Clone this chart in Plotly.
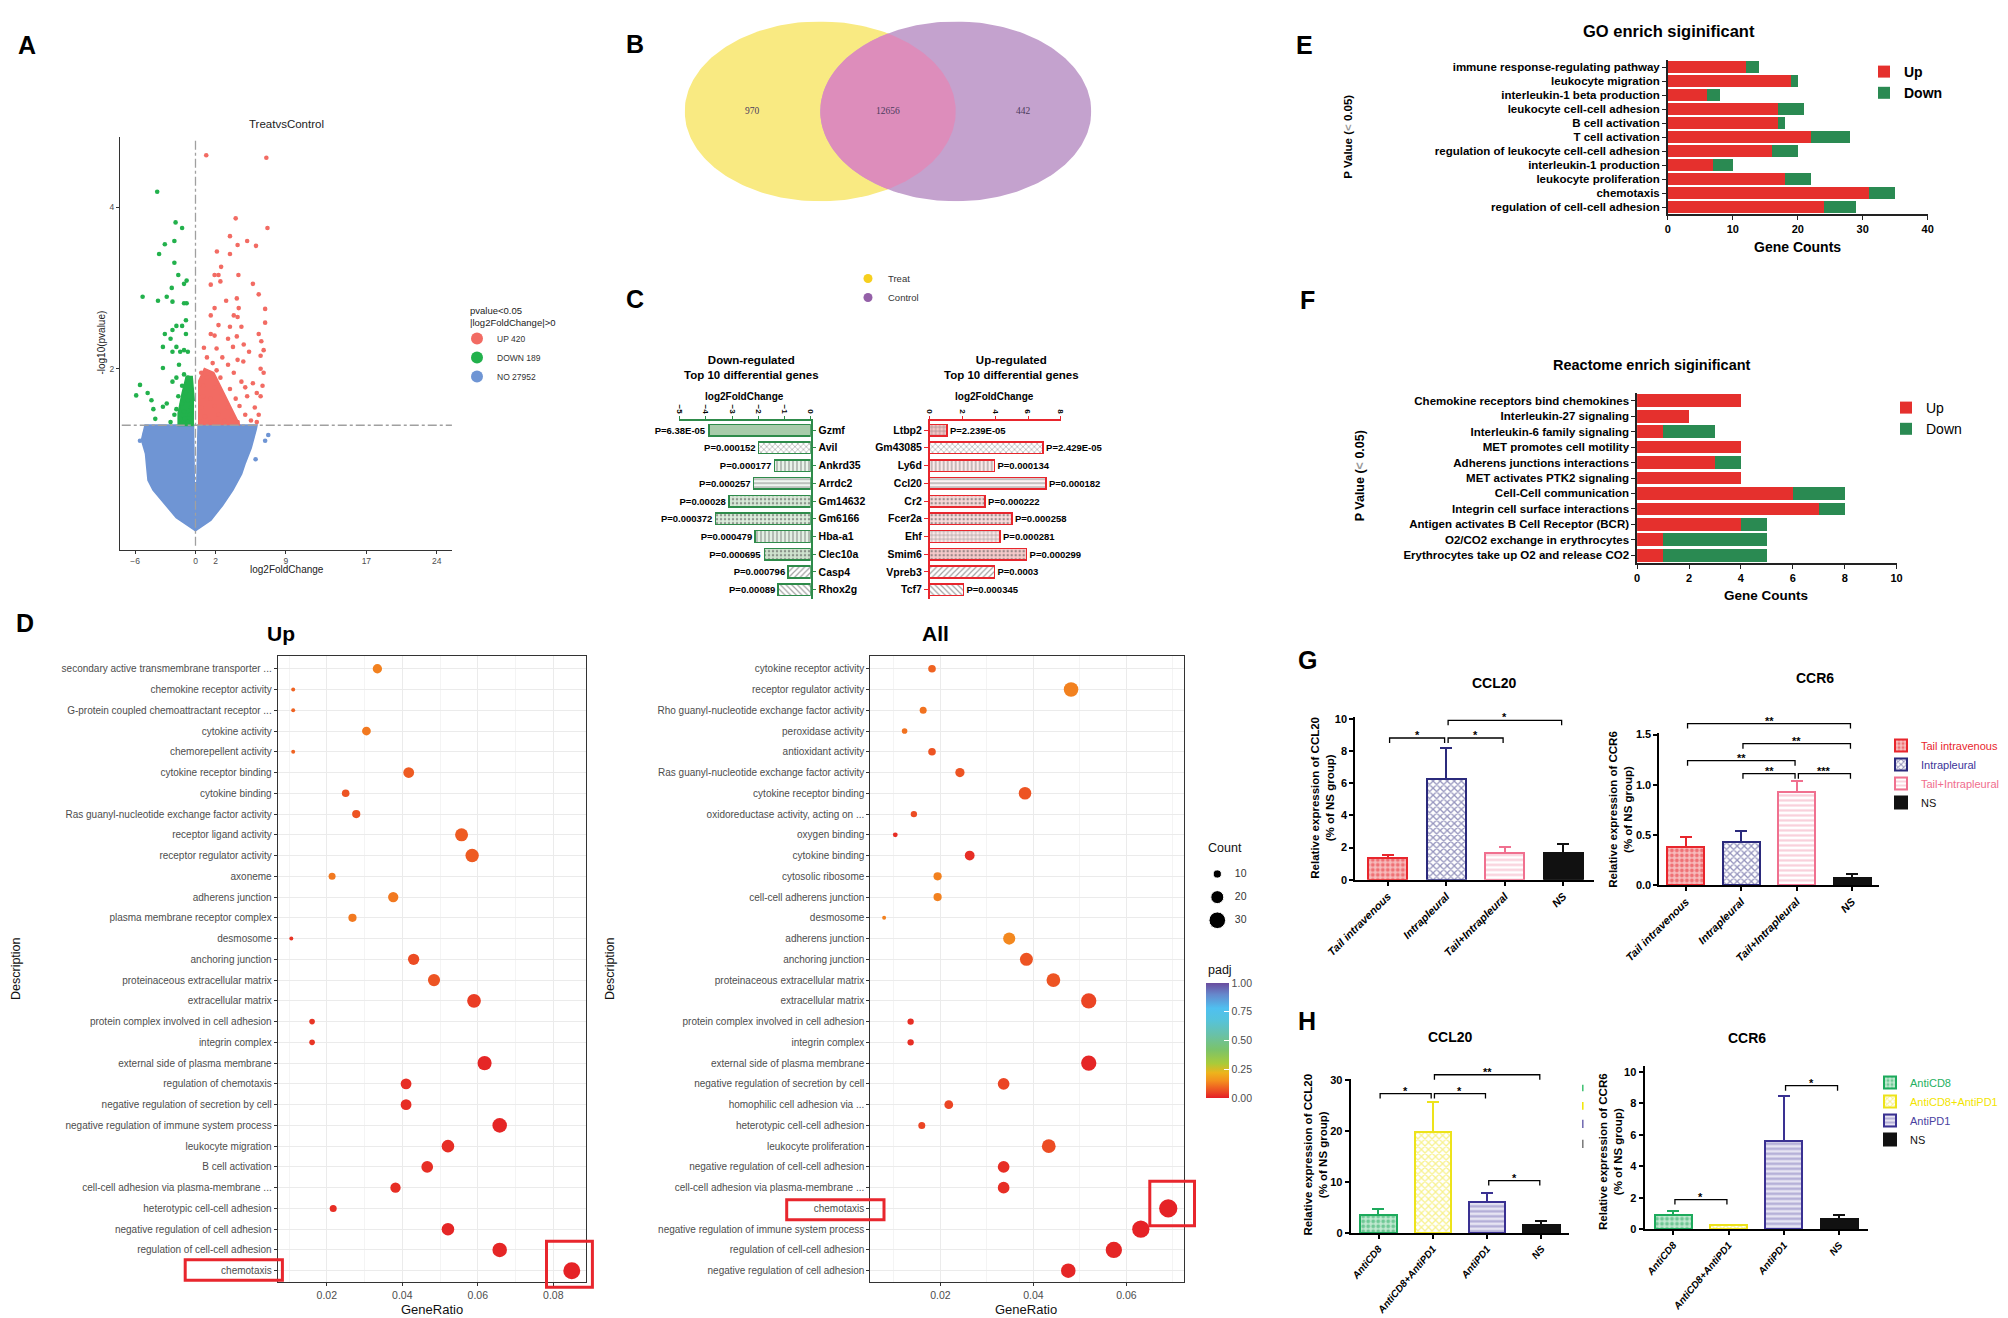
import numpy as np
import plotly.graph_objects as go

W, H = 2008, 1318
SANS = "Liberation Sans, Arial, Helvetica, sans-serif"
SERIF = "Liberation Serif, Times New Roman, serif"


def xdom(l, r):
    return [l / W, r / W]


def ydom(t, b):
    return [1 - b / H, 1 - t / H]


def PX(x):
    return x / W


def PY(y):
    return 1 - y / H


def ymap(v, dom, rng):
    return dom[0] + (v - rng[0]) / (rng[1] - rng[0]) * (dom[1] - dom[0])


# ======================= DATA =======================
# ---- A: volcano plot (log2FoldChange, -log10(pvalue)) ----
volc_up_pts = [
    (1.07, 4.64), (7.05, 4.61), (4.00, 3.86), (7.16, 3.74), (3.43, 3.64), (5.14, 3.58), (4.19, 3.53), (6.02, 3.52),
    (2.13, 3.45), (3.43, 3.42), (2.55, 3.26), (1.90, 3.16), (2.29, 3.16), (4.27, 3.16), (1.52, 3.04), (2.48, 3.08),
    (5.71, 3.05), (6.29, 2.92), (4.11, 2.87), (3.05, 2.84), (4.30, 2.75), (1.90, 2.75), (6.93, 2.74), (3.81, 2.66),
    (1.52, 2.66), (4.19, 2.64), (2.29, 2.54), (6.93, 2.57), (4.57, 2.52), (3.43, 2.52), (1.52, 2.43), (6.29, 2.43),
    (1.90, 2.41), (3.24, 2.37), (4.11, 2.40), (6.55, 2.34), (4.80, 2.30), (0.84, 2.26), (2.10, 2.25), (3.73, 2.27),
    (6.78, 2.23), (5.33, 2.21), (6.48, 2.16), (1.14, 2.14), (2.67, 2.14), (4.19, 2.11), (4.76, 2.09), (1.71, 2.07),
    (3.24, 2.05), (0.57, 1.95), (2.10, 1.98), (3.81, 1.95), (6.48, 2.00), (6.78, 1.95), (1.14, 1.89), (2.48, 1.89),
    (4.57, 1.84), (5.71, 1.82), (6.67, 1.79), (0.76, 1.79), (1.90, 1.77), (3.43, 1.75), (4.95, 1.77), (6.10, 1.70),
    (6.48, 1.66), (0.76, 1.66), (1.52, 1.63), (2.67, 1.68), (4.00, 1.63), (5.14, 1.66), (0.57, 1.52), (1.90, 1.54),
    (3.24, 1.52), (4.38, 1.54), (5.90, 1.52), (6.29, 1.43), (0.95, 1.41), (2.29, 1.43), (3.62, 1.41), (4.95, 1.43),
    (5.52, 1.36), (0.57, 1.34), (1.52, 1.34), (2.86, 1.36), (4.19, 1.34), (6.10, 1.34)]
volc_down_pts = [
    (-3.81, 4.19), (-1.98, 3.81), (-1.33, 3.74), (-3.05, 3.54), (-2.10, 3.58), (-3.62, 3.42), (-2.10, 3.31), (-1.71, 3.16),
    (-0.88, 3.09), (-1.14, 3.05), (-2.36, 3.00), (-5.26, 2.89), (-2.86, 2.89), (-3.73, 2.84), (-2.29, 2.83), (-1.14, 2.81),
    (-0.88, 2.81), (-0.95, 2.60), (-1.90, 2.53), (-1.33, 2.53), (-3.05, 2.43), (-2.29, 2.48), (-0.95, 2.43), (-2.48, 2.37),
    (-3.24, 2.27), (-1.90, 2.27), (-1.52, 2.21), (-2.29, 2.21), (-0.76, 2.21), (-1.14, 2.23), (-3.24, 2.01), (-1.64, 2.05),
    (-1.14, 1.93), (-1.90, 1.89), (-0.76, 1.89), (-5.52, 1.80), (-5.90, 1.67), (-4.76, 1.70), (-4.38, 1.61), (-4.19, 1.50),
    (-2.86, 1.57), (-3.24, 1.53), (-2.29, 1.84), (-1.33, 1.79), (-0.95, 1.70), (-0.76, 1.61), (-1.90, 1.50), (-1.14, 1.47),
    (-0.57, 1.43), (-4.00, 1.38), (-2.48, 1.34), (-1.52, 1.38), (-0.76, 1.34), (-0.46, 1.52), (-0.46, 1.75), (-1.71, 1.66),
    (-1.33, 1.57), (-2.10, 1.43), (-1.05, 1.38)]
volc_no_pts = [(-5.52, 1.11), (-5.03, 1.20), (-4.76, 1.26), (6.93, 1.11), (7.24, 1.18), (5.98, 0.88)]
# dense clouds (outlines)
volc_no_left = [(-0.12, 1.30), (-5.0, 1.30), (-5.35, 1.12), (-4.95, 0.95), (-4.8, 0.75), (-4.7, 0.62), (-4.2, 0.50),
                (-3.4, 0.38), (-1.9, 0.16), (0.0, 0.0), (-0.04, 0.6)]
volc_no_right = [(0.18, 1.30), (6.1, 1.30), (6.02, 1.25), (5.52, 1.02), (4.95, 0.84), (4.57, 0.70), (3.7, 0.50),
                 (2.67, 0.31), (1.52, 0.13), (0.0, 0.0), (0.06, 0.6)]
volc_up_core = [(0.35, 1.30), (0.35, 1.85), (0.9, 2.0), (1.8, 1.95), (2.6, 1.75), (3.4, 1.55), (4.4, 1.30)]
volc_down_core = [(-0.15, 1.30), (-1.7, 1.30), (-1.7, 1.45), (-1.3, 1.7), (-0.9, 1.9), (-0.35, 1.9), (-0.15, 1.6)]
volc_names = ["UP 420", "DOWN 189", "NO 27952"]
pvalue_cut = 0.05
volc_xticks = [-6, 0, 2, 9, 17, 24]
volc_yticks = [2, 4]

# ---- B: Venn ----
venn_sets = ["Treat", "Control"]
venn_counts = [970, 12656, 442]   # Treat only, both, Control only

# ---- C: top 10 genes ----
down_genes = ["Gzmf", "Avil", "Ankrd35", "Arrdc2", "Gm14632", "Gm6166", "Hba-a1", "Clec10a", "Casp4", "Rhox2g"]
down_lfc = [-3.89, -1.99, -1.39, -2.18, -3.13, -3.64, -2.12, -1.77, -0.86, -1.24]
down_p = ["P=6.38E-05", "P=0.000152", "P=0.000177", "P=0.000257", "P=0.00028", "P=0.000372",
          "P=0.000479", "P=0.000695", "P=0.000796", "P=0.00089"]
upg_genes = ["Ltbp2", "Gm43085", "Ly6d", "Ccl20", "Cr2", "Fcer2a", "Ehf", "Smim6", "Vpreb3", "Tcf7"]
upg_lfc = [1.05, 6.92, 3.95, 7.09, 3.38, 5.02, 4.29, 5.91, 3.95, 2.06]
upg_p = ["P=2.239E-05", "P=2.429E-05", "P=0.000134", "P=0.000182", "P=0.000222", "P=0.000258",
         "P=0.000281", "P=0.000299", "P=0.0003", "P=0.000345"]
down_ticks = [-5, -4, -3, -2, -1, 0]
upg_ticks = [0, 2, 4, 6, 8]

# ---- D: GO dot plots ----
dup_terms = [
    "secondary active transmembrane transporter ...", "chemokine receptor activity",
    "G-protein coupled chemoattractant receptor ...", "cytokine activity", "chemorepellent activity",
    "cytokine receptor binding", "cytokine binding", "Ras guanyl-nucleotide exchange factor activity",
    "receptor ligand activity", "receptor regulator activity", "axoneme", "adherens junction",
    "plasma membrane receptor complex", "desmosome", "anchoring junction", "proteinaceous extracellular matrix",
    "extracellular matrix", "protein complex involved in cell adhesion", "integrin complex",
    "external side of plasma membrane", "regulation of chemotaxis", "negative regulation of secretion by cell",
    "negative regulation of immune system process", "leukocyte migration", "B cell activation",
    "cell-cell adhesion via plasma-membrane ...", "heterotypic cell-cell adhesion",
    "negative regulation of cell adhesion", "regulation of cell-cell adhesion", "chemotaxis"]
dup_ratio = [0.0334, 0.0111, 0.0111, 0.0305, 0.0111, 0.0417, 0.0250, 0.0278, 0.0557, 0.0585, 0.0214, 0.0376,
             0.0268, 0.0106, 0.0430, 0.0484, 0.0590, 0.0161, 0.0161, 0.0618, 0.0410, 0.0410, 0.0658, 0.0521,
             0.0466, 0.0382, 0.0217, 0.0521, 0.0658, 0.0849]
dup_count = [12, 4, 4, 11, 4, 15, 9, 10, 20, 21, 8, 14, 10, 4, 16, 18, 22, 6, 6, 23, 15, 15, 24, 19, 17, 14, 8,
             19, 24, 31]
dup_padj = [0.13, 0.09, 0.09, 0.12, 0.09, 0.08, 0.07, 0.07, 0.08, 0.08, 0.12, 0.12, 0.12, 0.03, 0.06, 0.07, 0.04,
            0.03, 0.03, 0.01, 0.02, 0.02, 0.01, 0.02, 0.02, 0.02, 0.02, 0.01, 0.01, 0.005]
dall_terms = [
    "cytokine receptor activity", "receptor regulator activity", "Rho guanyl-nucleotide exchange factor activity",
    "peroxidase activity", "antioxidant activity", "Ras guanyl-nucleotide exchange factor activity",
    "cytokine receptor binding", "oxidoreductase activity, acting on ...", "oxygen binding", "cytokine binding",
    "cytosolic ribosome", "cell-cell adherens junction", "desmosome", "adherens junction", "anchoring junction",
    "proteinaceous extracellular matrix", "extracellular matrix", "protein complex involved in cell adhesion",
    "integrin complex", "external side of plasma membrane", "negative regulation of secretion by cell",
    "homophilic cell adhesion via ...", "heterotypic cell-cell adhesion", "leukocyte proliferation",
    "negative regulation of cell-cell adhesion", "cell-cell adhesion via plasma-membrane ...", "chemotaxis",
    "negative regulation of immune system process", "regulation of cell-cell adhesion",
    "negative regulation of cell adhesion"]
dall_ratio = [0.0182, 0.0481, 0.0163, 0.0123, 0.0182, 0.0242, 0.0382, 0.0143, 0.0103, 0.0263, 0.0194, 0.0194,
              0.0079, 0.0348, 0.0385, 0.0443, 0.0519, 0.0136, 0.0136, 0.0519, 0.0336, 0.0218, 0.0160, 0.0433,
              0.0336, 0.0336, 0.0690, 0.0631, 0.0573, 0.0475]
dall_count = [9, 24, 8, 6, 9, 12, 19, 7, 5, 13, 10, 10, 4, 18, 20, 22, 26, 7, 7, 26, 17, 11, 8, 22, 17, 17, 35,
              32, 29, 24]
dall_padj = [0.09, 0.13, 0.11, 0.11, 0.07, 0.07, 0.07, 0.06, 0.02, 0.02, 0.13, 0.13, 0.13, 0.14, 0.07, 0.07, 0.05,
             0.02, 0.02, 0.01, 0.05, 0.05, 0.05, 0.06, 0.02, 0.02, 0.005, 0.005, 0.01, 0.01]
size_legend_counts = [10, 20, 30]
padj_ticks = [0, 0.25, 0.5, 0.75, 1.0]
ratio_ticks = [0.02, 0.04, 0.06, 0.08]

# ---- E: GO enrich ----
go_terms = ["immune response-regulating pathway", "leukocyte migration", "interleukin-1 beta production",
            "leukocyte cell-cell adhesion", "B cell activation", "T cell activation",
            "regulation of leukocyte cell-cell adhesion", "interleukin-1 production", "leukocyte proliferation",
            "chemotaxis", "regulation of cell-cell adhesion"]
go_up = [12, 19, 6, 17, 17, 22, 16, 7, 18, 31, 24]
go_down = [2, 1, 2, 4, 1, 6, 4, 3, 4, 4, 5]
go_ticks = [0, 10, 20, 30, 40]

# ---- F: Reactome enrich ----
re_terms = ["Chemokine receptors bind chemokines", "Interleukin-27 signaling", "Interleukin-6 family signaling",
            "MET promotes cell motility", "Adherens junctions interactions", "MET activates PTK2 signaling",
            "Cell-Cell communication", "Integrin cell surface interactions",
            "Antigen activates B Cell Receptor (BCR)", "O2/CO2 exchange in erythrocytes",
            "Erythrocytes take up O2 and release CO2"]
re_up = [4, 2, 1, 4, 3, 4, 6, 7, 4, 1, 1]
re_down = [0, 0, 2, 0, 1, 0, 2, 1, 1, 4, 4]
re_ticks = [0, 2, 4, 6, 8, 10]

# ---- G: qPCR route groups ----
g_groups = ["Tail intravenous", "Intrapleural", "Tail+Intrapleural", "NS"]
g_ccl20 = [1.35, 6.27, 1.66, 1.66]
g_ccl20_err = [0.20, 1.91, 0.37, 0.56]
g_ccr6 = [0.38, 0.43, 0.93, 0.07]
g_ccr6_err = [0.10, 0.11, 0.11, 0.04]
g_ccl20_sig = [(0, 1, 8.8, "*"), (1, 2, 8.8, "*"), (1, 3, 9.9, "*")]
g_ccr6_sig = [(0, 3, 1.61, "**"), (1, 3, 1.41, "**"), (0, 2, 1.24, "**"), (1, 2, 1.11, "**"), (2, 3, 1.11, "***")]
g_ccl20_ticks = [0, 2, 4, 6, 8, 10]
g_ccr6_ticks = [0, 0.5, 1.0, 1.5]

# ---- H: qPCR antibody groups ----
h_groups = ["AntiCD8", "AntiCD8+AntiPD1", "AntiPD1", "NS"]
h_ccl20 = [3.6, 19.8, 6.1, 1.6]
h_ccl20_err = [1.2, 5.9, 1.8, 0.7]
h_ccr6 = [0.89, 0.30, 5.64, 0.66]
h_ccr6_err = [0.25, 0.0, 2.86, 0.23]
h_ccl20_sig = [(0, 1, 27.4, "*"), (1, 2, 27.4, "*"), (1, 3, 31.1, "**"), (2, 3, 10.3, "*")]
h_ccr6_sig = [(0, 1, 1.89, "*"), (2, 3, 9.13, "*")]
h_ccl20_ticks = [0, 10, 20, 30]
h_ccr6_ticks = [0, 2, 4, 6, 8, 10]

# ======================= STYLES =======================
V_RED, V_GREEN, V_BLUE = "#F26B63", "#22B14C", "#6F95D4"
C_GREEN, C_RED = "#2E8B4A", "#E8262D"
down_pat = ["", "x", "|", "-", ".", ".", "|", ".", "/", "\\"]
down_bg = ["#A8CCAA", "#FFFFFF", "#EAF3EA", "#F0F6F0", "#D8E9D8", "#DDEDDD", "#E4F0E4", "#CFE3CF", "#FFFFFF", "#FFFFFF"]
up_pat = ["+", "x", "|", "-", ".", ".", "+", ".", "/", "\\"]
up_bg = ["#F6C6C6", "#FFFFFF", "#FCEAEA", "#FDF3F3", "#F8D8D8", "#F9DCDC", "#FCE8E8", "#F6CBCB", "#FFFFFF", "#FFFFFF"]
E_RED, E_GREEN = "#E5302D", "#2A8A52"
PADJ_SCALE = [[0.0, "#E41E26"], [0.05, "#EB4524"], [0.10, "#F06A21"], [0.15, "#F4901E"], [0.22, "#EDB41C"],
              [0.30, "#A9CB3A"], [0.42, "#7BC36A"], [0.55, "#69C1A8"], [0.68, "#55C3DC"], [0.78, "#4FC0F0"],
              [0.90, "#6688CC"], [1.0, "#6A4C9E"]]
g_line = ["#E8262D", "#2B2A7C", "#F0708F", "#111111"]
g_fill = ["#F6BDBD", "#FFFFFF", "#FFFFFF", "#111111"]
g_pat = [".", "x", "-", ""]
g_fg = ["#E8262D", "#2B2A7C", "#F4A0B6", "#111111"]
g_txt = ["#E8262D", "#3B3599", "#F06D8D", "#111111"]
h_line = ["#1DAA5C", "#EDE31A", "#3A3192", "#111111"]
h_fill = ["#C2E8D1", "#FFFFFF", "#E6E4F2", "#111111"]
h_pat = [".", "x", "-", ""]
h_fg = ["#1DAA5C", "#F0E41C", "#7A72B8", "#111111"]
h_txt = ["#25B062", "#F2E400", "#4A42A0", "#111111"]


def size_fn(c):
    return 3.64 * np.sqrt(c) - 3.3


fig = go.Figure()

# ---------------- A ----------------
for pts, col in [(volc_no_left, V_BLUE), (volc_no_right, V_BLUE), (volc_down_core, V_GREEN), (volc_up_core, V_RED)]:
    px_, py_ = zip(*pts)
    fig.add_trace(go.Scatter(x=px_, y=py_, mode="lines", fill="toself", fillcolor=col,
                             line=dict(color=col, width=2), xaxis="x", yaxis="y", showlegend=False,
                             hoverinfo="skip"))
for pts, col, nm, rk in [(volc_no_pts, V_BLUE, volc_names[2], 3), (volc_down_pts, V_GREEN, volc_names[1], 2),
                         (volc_up_pts, V_RED, volc_names[0], 1)]:
    px_, py_ = zip(*pts)
    fig.add_trace(go.Scatter(x=px_, y=py_, mode="markers", marker=dict(size=4.6, color=col, opacity=1),
                             xaxis="x", yaxis="y", name=nm, legend="legend", legendrank=rk))

# ---------------- B ----------------
t = np.linspace(0, 2 * np.pi, 240)
c1, c2 = -0.5, 0.5
fig.add_trace(go.Scatter(x=c1 + np.cos(t), y=np.sin(t), mode="lines", fill="toself", fillcolor="#F9EA82",
                         line=dict(width=0, color="#F9EA82"), xaxis="x2", yaxis="y2", showlegend=False,
                         hoverinfo="skip"))
fig.add_trace(go.Scatter(x=c2 + np.cos(t), y=np.sin(t), mode="lines", fill="toself", fillcolor="#C4A2CE",
                         line=dict(width=0, color="#C4A2CE"), xaxis="x2", yaxis="y2", showlegend=False,
                         hoverinfo="skip"))
ta = np.linspace(2 * np.pi / 3, 4 * np.pi / 3, 80)
tb = np.linspace(-np.pi / 3, np.pi / 3, 80)
lens_x = np.concatenate([c2 + np.cos(ta), c1 + np.cos(tb)])
lens_y = np.concatenate([np.sin(ta), np.sin(tb)])
fig.add_trace(go.Scatter(x=lens_x, y=lens_y, mode="lines", fill="toself", fillcolor="#DD8DBB",
                         line=dict(width=0, color="#DD8DBB"), xaxis="x2", yaxis="y2", showlegend=False,
                         hoverinfo="skip"))
for nm, col, rk in zip(venn_sets, ["#F6CF1E", "#9460A8"], [1, 2]):
    fig.add_trace(go.Scatter(x=[None], y=[None], mode="markers", marker=dict(size=9, color=col), name=nm,
                             xaxis="x2", yaxis="y2", legend="legend2", legendrank=rk))

# ---------------- C ----------------
fig.add_trace(go.Bar(y=down_genes, x=down_lfc, orientation="h", width=0.65, text=down_p, textposition="outside",
                     textfont=dict(size=9.5, color="black", weight="bold"), cliponaxis=False, constraintext="none",
                     marker=dict(color=down_bg, line=dict(color=C_GREEN, width=1.5),
                                 pattern=dict(shape=down_pat, fgcolor=C_GREEN, size=4, solidity=0.3,
                                              fillmode="overlay")),
                     xaxis="x3", yaxis="y3", showlegend=False))
fig.add_trace(go.Bar(y=upg_genes, x=upg_lfc, orientation="h", width=0.65, text=upg_p, textposition="outside",
                     textfont=dict(size=9.5, color="black", weight="bold"), cliponaxis=False, constraintext="none",
                     marker=dict(color=up_bg, line=dict(color=C_RED, width=1.5),
                                 pattern=dict(shape=up_pat, fgcolor=C_RED, size=4, solidity=0.3,
                                              fillmode="overlay")),
                     xaxis="x4", yaxis="y4", showlegend=False))

# ---------------- D ----------------
fig.add_trace(go.Scatter(x=dup_ratio, y=dup_terms, mode="markers",
                         marker=dict(size=[size_fn(c) for c in dup_count], color=dup_padj, coloraxis="coloraxis",
                                     opacity=1, line=dict(width=0)),
                         xaxis="x5", yaxis="y5", showlegend=False))
fig.add_trace(go.Scatter(x=dall_ratio, y=dall_terms, mode="markers",
                         marker=dict(size=[size_fn(c) for c in dall_count], color=dall_padj, coloraxis="coloraxis",
                                     opacity=1, line=dict(width=0)),
                         xaxis="x6", yaxis="y6", showlegend=False))
fig.add_trace(go.Scatter(x=[0] * 3, y=size_legend_counts, mode="markers",
                         marker=dict(size=[size_fn(c) for c in size_legend_counts], color="black", opacity=1),
                         xaxis="x7", yaxis="y7", showlegend=False))
fig.add_trace(go.Scatter(x=[0.7] * 3, y=size_legend_counts, mode="text", text=[str(c) for c in size_legend_counts],
                         textposition="middle right", textfont=dict(size=10.5, color="#333333"),
                         xaxis="x7", yaxis="y7", showlegend=False))

# ---------------- E / F ----------------
fig.add_trace(go.Bar(y=go_terms, x=go_up, orientation="h", width=0.85, marker=dict(color=E_RED, line_width=0),
                     name="<b>Up</b>", xaxis="x8", yaxis="y8", legend="legend3"))
fig.add_trace(go.Bar(y=go_terms, x=go_down, orientation="h", width=0.85, marker=dict(color=E_GREEN, line_width=0),
                     name="<b>Down</b>", xaxis="x8", yaxis="y8", legend="legend3"))
fig.add_trace(go.Bar(y=re_terms, x=re_up, orientation="h", width=0.82, marker=dict(color=E_RED, line_width=0),
                     name="Up", xaxis="x9", yaxis="y9", legend="legend4"))
fig.add_trace(go.Bar(y=re_terms, x=re_down, orientation="h", width=0.82, marker=dict(color=E_GREEN, line_width=0),
                     name="Down", xaxis="x9", yaxis="y9", legend="legend4"))


# ---------------- G / H ----------------
def add_groups(xa, ya, vals, errs, names, lines, fills, pats, fgs, txts, legend, show):
    for i in range(len(vals)):
        fig.add_trace(go.Bar(
            x=[i], y=[vals[i]], width=0.67, xaxis=xa, yaxis=ya,
            name=f"<span style='color:{txts[i]}'>{names[i]}</span>", legend=legend, showlegend=show,
            marker=dict(color=fills[i], line=dict(color=lines[i], width=2),
                        pattern=dict(shape=pats[i], fgcolor=fgs[i], size=5, solidity=0.45, fillmode="overlay")),
            error_y=dict(type="data", array=[errs[i]], arrayminus=[0], symmetric=False, color=lines[i],
                         thickness=2, width=6)))


add_groups("x10", "y10", g_ccl20, g_ccl20_err, g_groups, g_line, g_fill, g_pat, g_fg, g_txt, "legend5", True)
add_groups("x11", "y11", g_ccr6, g_ccr6_err, g_groups, g_line, g_fill, g_pat, g_fg, g_txt, "legend5", False)
add_groups("x12", "y12", h_ccl20, h_ccl20_err, h_groups, h_line, h_fill, h_pat, h_fg, h_txt, "legend6", True)
add_groups("x13", "y13", h_ccr6, h_ccr6_err, h_groups, h_line, h_fill, h_pat, h_fg, h_txt, "legend6", False)

# ======================= LAYOUT =======================
shapes = []
annotations = []


def ann(text, x, y, size, color="black", angle=0, xanchor="center", yanchor="middle", family=SANS, align="center"):
    annotations.append(dict(text=text, x=PX(x), y=PY(y), xref="paper", yref="paper", showarrow=False,
                            font=dict(size=size, color=color, family=family), textangle=angle,
                            xanchor=xanchor, yanchor=yanchor, align=align))


# panel letters
for L, x, y in [("A", 19, 37), ("B", 627, 36), ("C", 627, 291), ("D", 17, 615), ("E", 1296, 37),
                ("F", 1299, 292), ("G", 1299, 652), ("H", 1299, 1013)]:
    ann(f"<b>{L}</b>", x, y, 25)

# A texts
ann("TreatvsControl", 278.6, 116.5, 11.5, "#222")
ann("log2FoldChange", 278.6, 561.2, 10, "#222")
ann("-log10(pvalue)", 93.8, 334.8, 10, "#222", angle=-90)
ann("pvalue&lt;0.05<br>|log2FoldChange|&gt;0", 460.4, 309, 9.5, "#222", xanchor="left", align="left")
shapes.append(dict(type="line", xref="x", yref="y domain", x0=0, x1=0, y0=0.01, y1=0.99,
                   line=dict(color="#A0A0A0", width=1.3, dash="dashdot")))
shapes.append(dict(type="line", xref="x domain", yref="y", x0=0.005, x1=1, y0=-np.log10(pvalue_cut),
                   y1=-np.log10(pvalue_cut), line=dict(color="#A0A0A0", width=1.3, dash="dashdot")))

# B texts
for xv, cnt in zip([c1 - 0.5, 0.0, c2 + 0.5], venn_counts):
    annotations.append(dict(text=str(cnt), x=xv, y=0, xref="x2", yref="y2", showarrow=False,
                            font=dict(size=9.5, color="#4B3B5B", family=SERIF)))

# C texts
ann("<b>Down-regulated<br>Top 10 differential genes</b>", 743.3, 360, 11.5)
ann("<b>Up-regulated<br>Top 10 differential genes</b>", 1003.3, 360, 11.5)
ann("<b>log2FoldChange</b>", 736.7, 388, 10)
ann("<b>log2FoldChange</b>", 986.7, 388, 10)

# D texts
ann("<b>Up</b>", 272.5, 625, 21)
ann("<b>All</b>", 927.7, 625, 21)
ann("GeneRatio", 424, 1301.7, 13, "#111")
ann("GeneRatio", 1018, 1301.7, 13, "#111")
ann("Description", 8, 961, 12.5, "#111", angle=-90)
ann("Description", 602, 961, 12.5, "#111", angle=-90)
ann("Count", 1198, 840, 12.5, "#111", xanchor="left")
ann("padj", 1198, 962, 12.5, "#111", xanchor="left")
for (x0, y0, x1, y1) in [(177.2, 1251.7, 274.4, 1272.3), (538.5, 1233.3, 584.4, 1279.3),
                         (778.7, 1191.7, 876.0, 1211.7), (1141.8, 1173.3, 1186.5, 1217.7)]:
    shapes.append(dict(type="rect", xref="paper", yref="paper", x0=PX(x0), x1=PX(x1), y0=PY(y1), y1=PY(y0),
                       line=dict(color="#E8262D", width=3)))

# E / F texts
ann("<b>GO enrich siginificant</b>", 1660.7, 23.3, 16.5)
ann("<b>Gene Counts</b>", 1789.3, 239.3, 14)
ann("<b>P Value (<span style='color:#999'>&lt;</span> 0.05)</b>", 1340.4, 128.3, 11.5, angle=-90)
ann("<b>Reactome enrich siginificant</b>", 1643.5, 357.3, 14.5)
ann("<b>Gene Counts</b>", 1758.2, 587.3, 13.5)
ann("<b>P Value (<span style='color:#999'>&lt;</span> 0.05)</b>", 1352, 468.3, 12.5, angle=-90)

# G / H texts
ann("<b>CCL20</b>", 1486.6, 675, 14)
ann("<b>CCR6</b>", 1807, 670, 14)
ann("<b>Relative expression of CCL20<br>(% of NS group)</b>", 1313.7, 790, 11.5, angle=-90)
ann("<b>Relative expression of CCR6<br>(% of NS group)</b>", 1613.1, 801.7, 11.5, angle=-90)
ann("<b>CCL20</b>", 1442.5, 1029.3, 14)
ann("<b>CCR6</b>", 1738.7, 1030, 14)
ann("<b>Relative expression of CCL20<br>(% of NS group)</b>", 1307.9, 1146.7, 11.5, angle=-90)
ann("<b>Relative expression of CCR6<br>(% of NS group)</b>", 1602.7, 1143.3, 11.5, angle=-90)
for (y0, y1, col) in [(1076.7, 1083.3, "#3CC070"), (1094, 1101.7, "#F2E600"), (1111.7, 1120, "#6F67B0"),
                      (1131.7, 1140, "#777777")]:
    shapes.append(dict(type="line", xref="paper", yref="paper", x0=PX(1574.8), x1=PX(1574.8), y0=PY(y1),
                       y1=PY(y0), line=dict(color=col, width=1.5)))

G1_DOM, G1_RNG = ydom(709.4, 871.7), [0, 10.08]
G2_DOM, G2_RNG = ydom(724.9, 877.0), [0, 1.517]
H1_DOM, H1_RNG = ydom(1070.8, 1225.0), [0, 30.3]
H2_DOM, H2_RNG = ydom(1058.3, 1221.3), [0, 10.36]


def add_sig(xa, dom, rng, sigs):
    for (a, b, v, s) in sigs:
        yt = ymap(v, dom, rng)
        yb = yt - 5 / H
        x0, x1 = a + 0.03, b - 0.03
        shapes.append(dict(type="path", xref=xa, yref="paper",
                           path=f"M {x0},{yb} L {x0},{yt} L {x1},{yt} L {x1},{yb}",
                           line=dict(color="black", width=1.3)))
        annotations.append(dict(text=f"<b>{s}</b>", x=(x0 + x1) / 2, y=yt, xref=xa, yref="paper",
                                showarrow=False, yanchor="bottom", yshift=-5,
                                font=dict(size=11, color="black", family=SANS)))


add_sig("x10", G1_DOM, G1_RNG, g_ccl20_sig)
add_sig("x11", G2_DOM, G2_RNG, g_ccr6_sig)
add_sig("x12", H1_DOM, H1_RNG, h_ccl20_sig)
add_sig("x13", H2_DOM, H2_RNG, h_ccr6_sig)

# ---------- axes ----------
GR = "#4D4D4D"
ax_a = dict(showgrid=False, zeroline=False, showline=True, linecolor="#333", linewidth=1.2, ticks="outside",
            ticklen=3, tickcolor="#333", tickfont=dict(size=8.5, color=GR))
hidden = dict(visible=False, showgrid=False, zeroline=False, fixedrange=True)


def c_x(dom, rng, tv, col):
    return dict(domain=dom, range=rng, side="top", tickvals=tv, tickangle=90, showgrid=False, zeroline=False,
                showline=True, linecolor=col, linewidth=1.5, ticks="outside", ticklen=3, tickcolor=col,
                tickfont=dict(size=8, color="black", weight="bold"))


def c_y(dom, cats, side, col):
    return dict(domain=dom, type="category", categoryorder="array", categoryarray=cats, range=[9.5, -0.5],
                side=side, showgrid=False, zeroline=False, showline=True, linecolor=col, linewidth=1.5,
                ticks="outside", ticklen=4, tickcolor=col, tickfont=dict(size=10.5, color="black", weight="bold"))


def d_x(dom, rng):
    return dict(domain=dom, range=rng, tickvals=ratio_ticks, tickformat=".2f", showgrid=True, gridcolor="#EBEBEB",
                gridwidth=1, minor=dict(dtick=0.01, tick0=0, showgrid=True, gridcolor="#F4F4F4", gridwidth=0.6),
                zeroline=False, showline=True, mirror=True, linecolor="#333", linewidth=1.2, ticks="outside",
                ticklen=3, tickcolor="#333", tickfont=dict(size=10.5, color=GR))


def d_y(dom, cats):
    return dict(domain=dom, type="category", categoryorder="array", categoryarray=cats, range=[29.56, -0.6],
                showgrid=True, gridcolor="#EBEBEB", gridwidth=1, zeroline=False, showline=True, mirror=True,
                linecolor="#333", linewidth=1.2, ticks="outside", ticklen=3, tickcolor="#333",
                tickfont=dict(size=10, color=GR))


def ef_x(dom, rng, tv, fs):
    return dict(domain=dom, range=rng, tickvals=tv, showgrid=False, zeroline=False, showline=True,
                linecolor="#222", linewidth=1.5, ticks="outside", ticklen=4, tickwidth=1.3, tickcolor="#222",
                tickfont=dict(size=fs, color="black", weight="bold"))


def ef_y(dom, cats, fs):
    return dict(domain=dom, type="category", categoryorder="array", categoryarray=cats, range=[10.5, -0.5],
                showgrid=False, zeroline=False, showline=True, linecolor="#222", linewidth=1.5, ticks="outside",
                ticklen=4, tickwidth=1.3, tickcolor="#222", tickfont=dict(size=fs, color="black", weight="bold"))


def gh_x(dom, rng, groups, angle, fs):
    return dict(domain=dom, range=rng, tickvals=list(range(len(groups))),
                ticktext=[f"<b><i>{g}</i></b>" for g in groups], tickangle=angle, showgrid=False, zeroline=False,
                showline=True, linecolor="black", linewidth=2, ticks="outside", ticklen=4, tickwidth=1.5,
                tickcolor="black", tickfont=dict(size=fs, color="black"))


def gh_y(dom, rng, tv, fmt):
    return dict(domain=dom, range=rng, tickvals=tv, tickformat=fmt, showgrid=False, zeroline=False,
                showline=True, linecolor="black", linewidth=2, ticks="outside", ticklen=4, tickwidth=1.5,
                tickcolor="black", tickfont=dict(size=11, color="black", weight="bold"))


def leg(x, y, size, color="black"):
    return dict(x=PX(x), y=PY(y), xanchor="left", yanchor="top", bgcolor="rgba(0,0,0,0)",
                font=dict(size=size, color=color, family=SANS), tracegroupgap=0, traceorder="normal")


layout = dict(
    width=W, height=H, margin=dict(l=0, r=0, t=0, b=0), template="none", paper_bgcolor="white",
    plot_bgcolor="white", font=dict(family=SANS, color="black"), barmode="stack", hovermode=False,
    xaxis=dict(domain=xdom(112.1, 443.9), range=[-7.5, 25.51], tickvals=volc_xticks, anchor="y", **ax_a),
    yaxis=dict(domain=ydom(128.7, 542.0), range=[-0.242, 4.87], tickvals=volc_yticks, anchor="x", **ax_a),
    xaxis2=dict(domain=xdom(676.7, 1083.3), range=[-1.5, 1.5], anchor="y2", **hidden),
    yaxis2=dict(domain=ydom(13.4, 193.3), range=[-1, 1], anchor="x2", **hidden),
    xaxis3=dict(anchor="y3", **c_x(xdom(671, 802.7), [-5.03, 0], down_ticks, C_GREEN)),
    yaxis3=dict(anchor="x3", **c_y(ydom(413.2, 590.6), down_genes, "right", C_GREEN)),
    xaxis4=dict(anchor="y4", **c_x(xdom(921.7, 1053.3), [0, 8.03], upg_ticks, C_RED)),
    yaxis4=dict(anchor="x4", **c_y(ydom(413.2, 590.6), upg_genes, "left", C_RED)),
    xaxis5=dict(anchor="y5", **d_x(xdom(269.8, 577.9), [0.00702, 0.08864])),
    yaxis5=dict(anchor="x5", **d_y(ydom(648.3, 1274.3), dup_terms)),
    xaxis6=dict(anchor="y6", **d_x(xdom(862.4, 1175.6), [0.00495, 0.0723])),
    yaxis6=dict(anchor="x6", **d_y(ydom(648.3, 1274.3), dall_terms)),
    xaxis7=dict(domain=xdom(1195, 1255), range=[-0.572, 1.828], anchor="y7", **hidden),
    yaxis7=dict(domain=ydom(855, 925), range=[35.5, 5.25], anchor="x7", **hidden),
    xaxis8=dict(anchor="y8", **ef_x(xdom(1659.8, 1919.7), [0, 40], go_ticks, 11)),
    yaxis8=dict(anchor="x8", **ef_y(ydom(52, 206.3), go_terms, 11.5)),
    xaxis9=dict(anchor="y9", **ef_x(xdom(1629.1, 1888.6), [0, 10], re_ticks, 11)),
    yaxis9=dict(anchor="x9", **ef_y(ydom(385, 555), re_terms, 11.5)),
    xaxis10=dict(anchor="y10", **gh_x(xdom(1347.3, 1586.4), [-0.556, 3.53], g_groups, -45, 11)),
    yaxis10=dict(anchor="x10", **gh_y(G1_DOM, G1_RNG, g_ccl20_ticks, "d")),
    xaxis11=dict(anchor="y11", **gh_x(xdom(1651.4, 1870.5), [-0.478, 3.476], g_groups, -45, 11)),
    yaxis11=dict(anchor="x11", **gh_y(G2_DOM, G2_RNG, g_ccr6_ticks, ".1f")),
    xaxis12=dict(anchor="y12", **gh_x(xdom(1342.7, 1560.9), [-0.512, 3.506], h_groups, -50, 10)),
    yaxis12=dict(anchor="x12", **gh_y(H1_DOM, H1_RNG, h_ccl20_ticks, "d")),
    xaxis13=dict(anchor="y13", **gh_x(xdom(1636.5, 1860.3), [-0.52, 3.526], h_groups, -50, 10)),
    yaxis13=dict(anchor="x13", **gh_y(H2_DOM, H2_RNG, h_ccr6_ticks, "d")),
    coloraxis=dict(colorscale=PADJ_SCALE, cmin=0, cmax=1,
                   colorbar=dict(x=PX(1198.3), xanchor="left", xpad=0, y=PY(975), yanchor="top", ypad=0,
                                 len=115, lenmode="pixels", thickness=23.4, thicknessmode="pixels",
                                 outlinewidth=0, ticks="inside", tickcolor="white", ticklen=5,
                                 tickvals=padj_ticks, ticktext=[f"{v:.2f}" for v in padj_ticks],
                                 tickfont=dict(size=10.5, color=GR))),
    legend=dict(itemsizing="constant", **leg(449, 316, 8.5, "#333")),
    legend2=leg(840, 256, 9.5, "#333"),
    legend3=leg(1856, 48, 14),
    legend4=leg(1878, 384, 14),
    legend5=leg(1873, 723, 11),
    legend6=leg(1862, 1060, 11),
    shapes=shapes,
    annotations=annotations,
)
fig.update_layout(**layout)
fig.write_html("out.html")
